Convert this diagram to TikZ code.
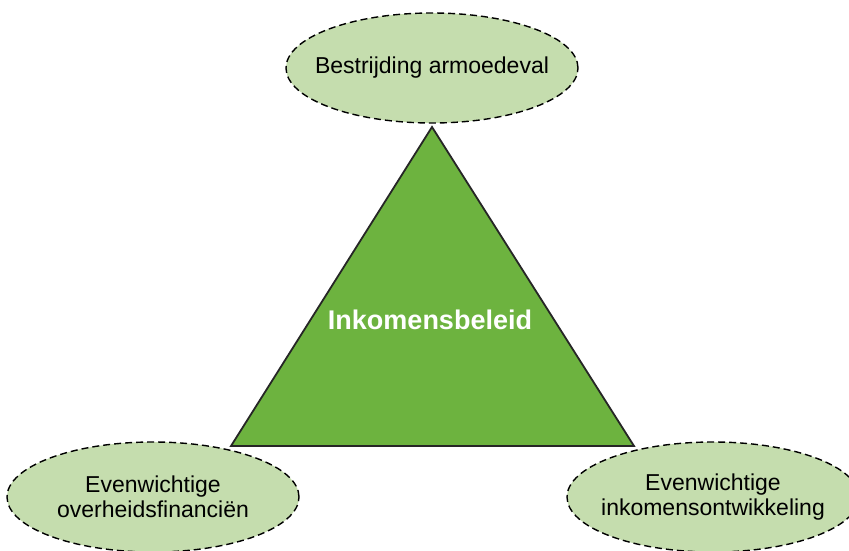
\documentclass[tikz,border=0pt]{standalone}
\usepackage{fontspec}
\setmainfont{Liberation Sans}
\usetikzlibrary{shapes.geometric}
\definecolor{beleidgroen}{HTML}{6DB33F}
\definecolor{doelgroen}{HTML}{C5DDAE}
\tikzset{doel/.style={ellipse, draw, fill=doelgroen, line width=1.4pt,
    dash pattern=on 7pt off 4pt, minimum width=292pt, minimum height=110pt,
    inner xsep=-14pt, inner ysep=0pt, align=center, font=\fontsize{23}{25}\selectfont}}

\begin{document}
\begin{tikzpicture}[x=1pt, y=1pt]
    \clip(0, 0)rectangle(849, 550);
    \coordinate(T)at(432, 423);
    \coordinate(L)at(231, 104);
    \coordinate(R)at(634, 104);
    \node[doel](armoede)at(432, 482){Bestrijding armoedeval};
    \node[doel](financien)at(153, 53){Evenwichtige\\overheidsfinanciën};
    \node[doel](inkomen)at(713, 53){Evenwichtige\\inkomensontwikkeling};
    \draw[fill=beleidgroen, line width=1.8pt, draw=black!85](T)--(L)--(R)--cycle;
    \node[text=white, font=\fontsize{27}{30}\selectfont\bfseries](beleid)at(430, 230){Inkomensbeleid};
\end{tikzpicture}
\end{document}
